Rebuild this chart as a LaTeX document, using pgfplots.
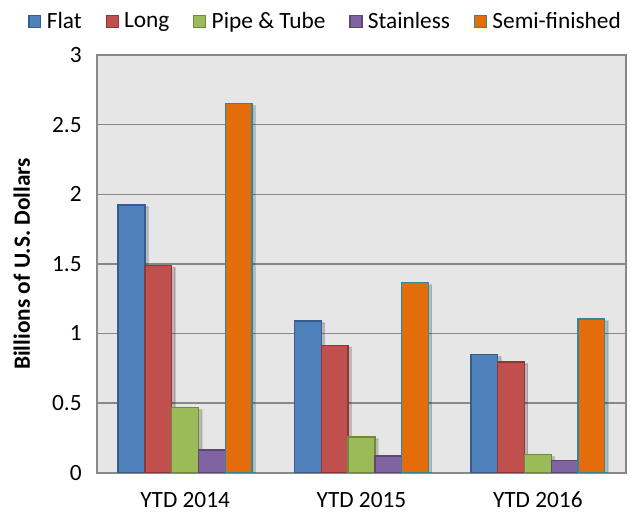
\documentclass[border=0pt]{standalone}
\usepackage{pgfplots}
\pgfplotsset{compat=1.18}
\usetikzlibrary{shadows}
\usepackage{fontspec}
\setmainfont{Carlito}
\definecolor{cFlat}{HTML}{4F81BD}\definecolor{dFlat}{HTML}{385D8A}
\definecolor{cLong}{HTML}{C0504D}\definecolor{dLong}{HTML}{8C3836}
\definecolor{cPipe}{HTML}{9BBB59}\definecolor{dPipe}{HTML}{71893F}
\definecolor{cSt}{HTML}{8064A2}\definecolor{dSt}{HTML}{5C4776}
\definecolor{cSemi}{HTML}{E46C0A}\definecolor{dSemi}{HTML}{31859C}
\definecolor{plotbg}{HTML}{E6E6E6}
\definecolor{gridc}{HTML}{888888}
\pgfplotsset{
  legsq/.style 2 args={legend image code/.code={%
    \pgfsetfillcolor{#1}\pgfsetstrokecolor{#2}\pgfsetlinewidth{0.8pt}%
    \pgfpathrectangle{\pgfpoint{0pt}{-4.5pt}}{\pgfpoint{9pt}{9pt}}%
    \pgfusepath{fill,stroke}}},
  barsh/.style={drop shadow={shadow xshift=2.5pt, shadow yshift=-1.5pt, opacity=0.2, fill=black}},
}
\begin{document}
\begin{tikzpicture}
\begin{axis}[
  scale only axis,
  width=397pt, height=313.5pt,
  ybar=0pt, bar width=20.1pt,
  xmin=-0.5, xmax=2.5,
  ymin=0, ymax=3,
  xtick=data,
  xticklabels={YTD 2014, YTD 2015, YTD 2016},
  ytick={0,0.5,1,1.5,2,2.5,3},
  yticklabels={0,0.5,1,1.5,2,2.5,3},
  major tick length=0pt,
  ymajorgrids,
  grid style={draw=gridc, line width=1pt},
  axis line style={draw=gridc, line width=1.3pt},
  axis background/.style={fill=plotbg},
  font=\fontsize{17.5}{20}\selectfont,
  ticklabel style={font=\fontsize{17.5}{20}\selectfont},
  yticklabel style={xshift=-8pt},
  xticklabel style={yshift=-11pt},
  ylabel={\bfseries Billions of U.S. Dollars},
  ylabel style={font=\fontsize{19}{22}\selectfont},
  every axis y label/.style={at={(axis description cs:-0.142,0.5)}, rotate=90, anchor=center},
  legend columns=5,
  legend style={draw=none, fill=none, at={(-0.13,1.081)}, anchor=west, inner sep=0pt,
    font=\fontsize{17.5}{20}\selectfont,
    /tikz/every even column/.append style={column sep=16pt},
    /tikz/every odd column/.append style={column sep=2pt}},
  legend cell align=left,
]
\addplot[fill=cFlat, draw=dFlat, line width=1pt, barsh, legsq={cFlat}{dFlat}] coordinates {(0,1.923) (1,1.090) (2,0.849)};
\addplot[fill=cLong, draw=dLong, line width=1pt, barsh, legsq={cLong}{dLong}] coordinates {(0,1.489) (1,0.916) (2,0.796)};
\addplot[fill=cPipe, draw=dPipe, line width=1pt, barsh, legsq={cPipe}{dPipe}] coordinates {(0,0.468) (1,0.256) (2,0.130)};
\addplot[fill=cSt, draw=dSt, line width=1pt, barsh, legsq={cSt}{dSt}] coordinates {(0,0.163) (1,0.120) (2,0.090)};
\addplot[fill=cSemi, draw=dSemi, line width=1pt, barsh, legsq={cSemi}{dSemi}] coordinates {(0,2.650) (1,1.364) (2,1.105)};
\legend{Flat, Long, Pipe \& Tube, Stainless, Semi-finished}
\end{axis}
\path ([xshift=-72.75pt,yshift=-30pt]current axis.south west) rectangle ([xshift=3.75pt,yshift=41.25pt]current axis.north east);
\end{tikzpicture}
\end{document}
